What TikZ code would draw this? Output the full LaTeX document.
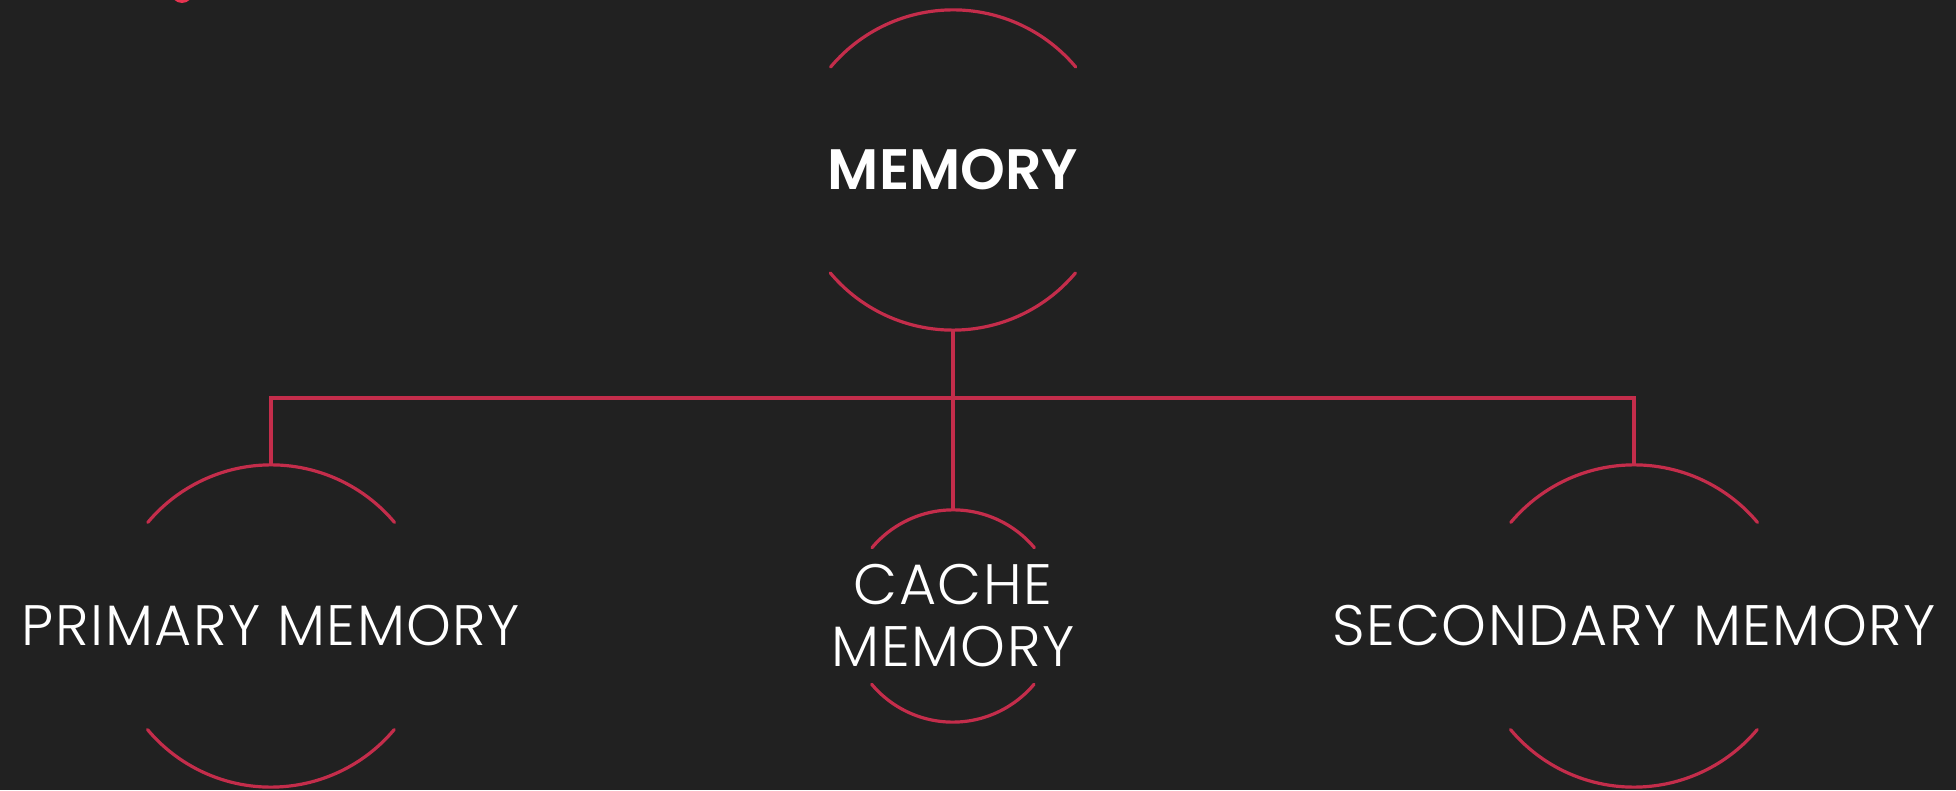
\documentclass[tikz,border=0pt]{standalone}
\usepackage{fontspec}
\setmainfont{Poppins}[UprightFont=* Light, BoldFont=* SemiBold]
\newfontfamily\spacedlight{Poppins}[UprightFont=* Light, LetterSpace=2.6]
\definecolor{bg}{RGB}{33,33,33}
\definecolor{ringred}{RGB}{196,45,75}
\definecolor{dotred}{RGB}{232,51,80}
\tikzset{
  ring/.style={circle, inner sep=0pt, minimum size=2*#1 pt},
  label text/.style={text=white, inner sep=0pt, align=center,
    font=\spacedlight\fontsize{57}{62}\selectfont},
  wire/.style={draw=ringred, line width=3.2pt},
}
% draw the upper and lower arcs of a ring node: name, radius
\newcommand{\ringarcs}[2]{%
  \draw[wire, line cap=round] (#1.40) arc[start angle=40, end angle=140, radius=#2pt];
  \draw[wire, line cap=round] (#1.220) arc[start angle=220, end angle=320, radius=#2pt];
}
\begin{document}
\begin{tikzpicture}[x=1pt, y=1pt]
  \fill[bg] (0,0) rectangle (1956,790);
  \useasboundingbox (0,0) rectangle (1956,790);
  \begin{scope}
    \clip (0,0) rectangle (1956,790);
    \fill[dotred] (182,798) circle (11);
  \end{scope}

  % ring nodes
  \node[ring=160] (mem)   at (953,620) {};
  \node[ring=161] (prim)  at (271,164) {};
  \node[ring=106] (cache) at (953,174) {};
  \node[ring=161] (sec)   at (1634,164) {};

  \ringarcs{mem}{160}
  \ringarcs{prim}{161}
  \ringarcs{cache}{106}
  \ringarcs{sec}{161}

  % labels
  \node[label text, font=\rmfamily\fontsize{57}{62}\bfseries] (memt) at (mem) {MEMORY};
  \node[label text] (primt)  at (prim)  {PRIMARY MEMORY};
  \node[label text] (cachet) at (cache) {CACHE\\MEMORY};
  \node[label text] (sect)   at (sec)   {SECONDARY MEMORY};

  % connectors
  \coordinate (bus) at (953,392);
  \draw[wire] (mem.south) -- (cache.north);
  \draw[wire] (prim.north) -- (prim.north |- bus) -- (sec.north |- bus) -- (sec.north);
\end{tikzpicture}
\end{document}
